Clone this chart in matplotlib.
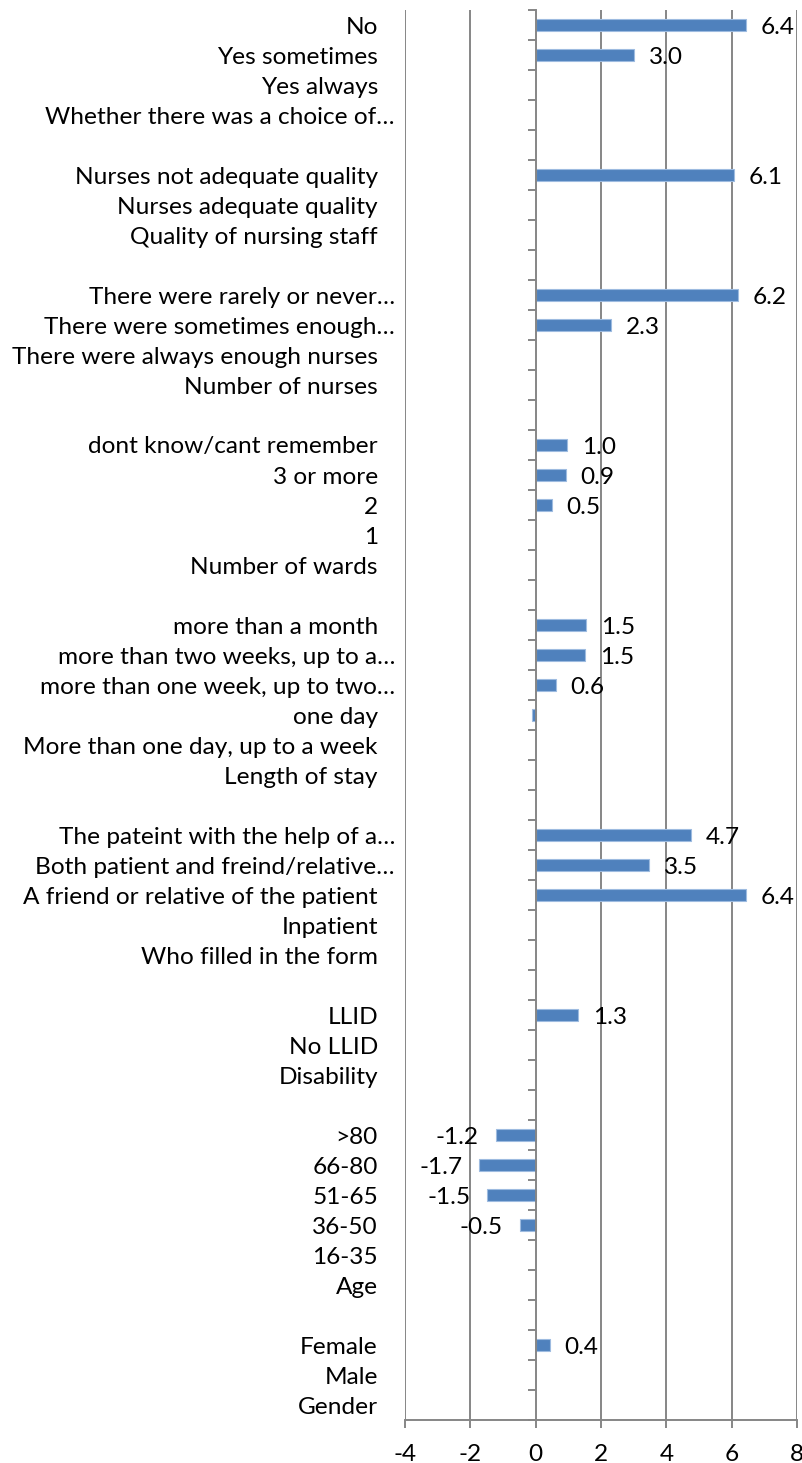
import matplotlib.pyplot as plt
import numpy as np

# categories listed top to bottom, as in the chart ("" = spacer row)
labels = [
    "No", "Yes sometimes", "Yes always", "Whether there was a choice of…", "",
    "Nurses not adequate quality", "Nurses adequate quality", "Quality of nursing staff", "",
    "There were rarely or never…", "There were sometimes enough…",
    "There were always enough nurses", "Number of nurses", "",
    "dont know/cant remember", "3 or more", "2", "1", "Number of wards", "",
    "more than a month", "more than two weeks, up to a…", "more than one week, up to two…",
    "one day", "More than one day, up to a week", "Length of stay", "",
    "The pateint with the help of a…", "Both patient and freind/relative…",
    "A friend or relative of the patient", "Inpatient", "Who filled in the form", "",
    "LLID", "No LLID", "Disability", "",
    ">80", "66-80", "51-65", "36-50", "16-35", "Age", "",
    "Female", "Male", "Gender",
]
# None = no bar
values = [
    6.44, 3.01, None, None, None,
    6.07, None, None, None,
    6.18, 2.30, None, None, None,
    0.97, 0.92, 0.49, None, None, None,
    1.53, 1.51, 0.61, -0.12, None, None, None,
    4.74, 3.47, 6.43, None, None, None,
    1.30, None, None, None,
    -1.22, -1.73, -1.48, -0.49, None, None, None,
    0.43, None, None,
]
# which bars carry a value label
show_label = [
    True, True, False, False, False,
    True, False, False, False,
    True, True, False, False, False,
    True, True, True, False, False, False,
    True, True, True, False, False, False, False,
    True, True, True, False, False, False,
    True, False, False, False,
    True, True, True, True, False, False, False,
    True, False, False,
]
xticks = [-4, -2, 0, 2, 4, 6, 8]

font = ["Lato", "DejaVu Sans"]
fs = 17.6
grey = "#868686"

n = len(labels)
ypos = np.arange(n)[::-1]

fig = plt.figure(figsize=(8.03, 14.63), dpi=100)
ax = fig.add_axes([405 / 803, 1 - 1420 / 1463, 392 / 803, 1410 / 1463])

for y, v, lab in zip(ypos, values, show_label):
    if v is None:
        continue
    ax.barh(y, v, height=0.38, color="#4f81bd", edgecolor="#9dbbe0", linewidth=0.8, zorder=3)
    if lab:
        if v >= 0:
            ax.annotate(f"{v:.1f}", (v, y), xytext=(15, -3), textcoords="offset pixels",
                        ha="left", va="center", fontsize=fs, family=font, zorder=4)
        else:
            ax.annotate(f"{v:.1f}", (v, y), xytext=(-17, -3), textcoords="offset pixels",
                        ha="right", va="center", fontsize=fs, family=font, zorder=4)

ax.set_xlim(-4, 8)
ax.set_ylim(-0.5, n - 0.5)
ax.set_xticks(xticks)
ax.set_xticklabels([str(t) for t in xticks], fontsize=fs, family=font)
for t in xticks:
    if t != 0:
        ax.axvline(t, color=grey, lw=1.4, zorder=1)

# y axis sits at x=0 with ticks between categories
ax.spines["left"].set_position(("data", 0))
ax.spines["left"].set_color(grey)
ax.spines["left"].set_linewidth(1.4)
ax.spines["left"].set_zorder(5)
ax.spines["bottom"].set_color(grey)
ax.spines["bottom"].set_linewidth(1.4)
ax.spines["top"].set_visible(False)
ax.spines["right"].set_visible(False)
ax.set_yticks(np.arange(n + 1) - 0.5)
ax.set_yticklabels([])
ax.tick_params(axis="y", direction="out", length=6, width=1.4, color=grey)
ax.tick_params(axis="x", direction="out", length=6, width=1.4, color=grey, pad=11)

# category labels to the left of the plot area
trans = ax.get_yaxis_transform()
for y, text in zip(ypos, labels):
    if not text:
        continue
    off = -10 if text.endswith("…") else -27
    ax.annotate(text, (0, y), xycoords=trans, xytext=(off, -2), textcoords="offset pixels",
                ha="right", va="center", fontsize=fs, family=font)

fig.savefig("out.png", dpi=100)
